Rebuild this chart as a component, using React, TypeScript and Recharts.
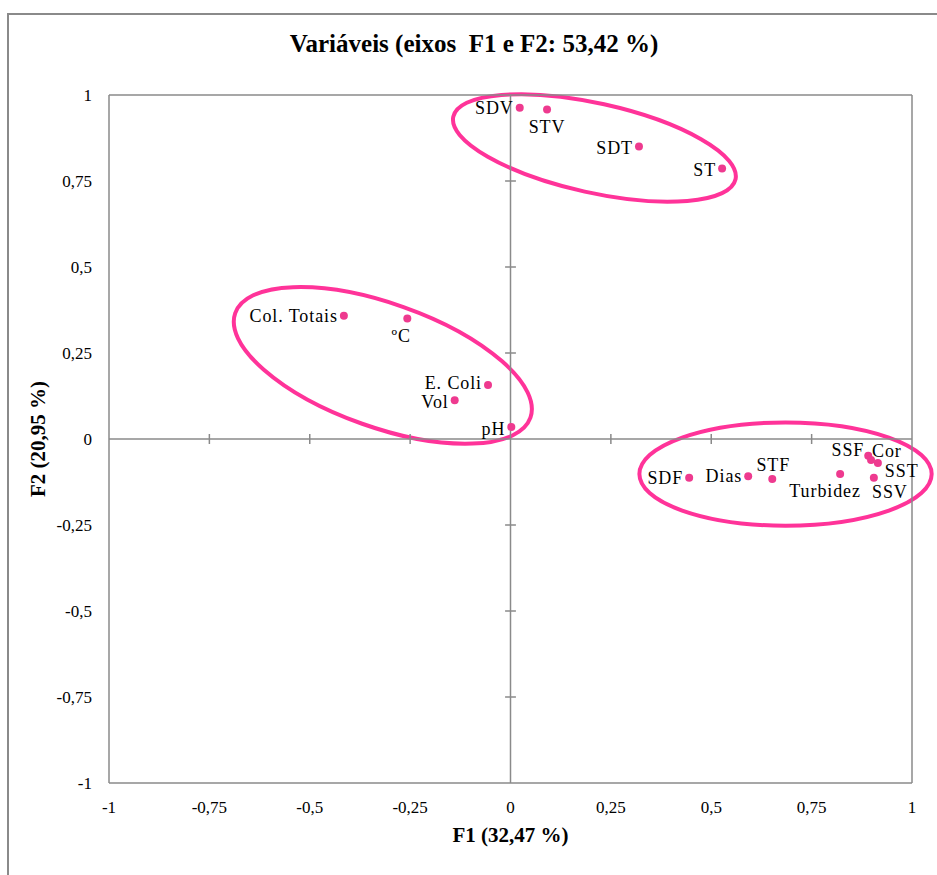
import { ScatterChart, Scatter, XAxis, YAxis, ReferenceLine, ReferenceArea } from "recharts";

// variable names and loadings
const names = [
  "SDV", "STV", "SDT", "ST",
  "Col. Totais", "ºC", "E. Coli", "Vol", "pH",
  "SDF", "Dias", "STF", "Turbidez", "SSF", "Cor", "SST", "SSV",
];
const f1 = [
  0.023, 0.091, 0.32, 0.527,
  -0.415, -0.257, -0.056, -0.139, 0.002,
  0.445, 0.592, 0.652, 0.821, 0.891, 0.898, 0.915, 0.905,
];
const f2 = [
  0.963, 0.958, 0.85, 0.786,
  0.358, 0.35, 0.157, 0.113, 0.035,
  -0.113, -0.108, -0.116, -0.102, -0.049, -0.061, -0.07, -0.113,
];
const axisTicks = [-1, -0.75, -0.5, -0.25, 0, 0.25, 0.5, 0.75, 1];
const innerTicks = [-0.75, -0.5, -0.25, 0.25, 0.5, 0.75];

// groups circled on the chart: centre, half-axes (data units), tilt in degrees
const groupCx = [0.209, -0.318, 0.685];
const groupCy = [0.846, 0.214, -0.102];
const groupRx = [0.36, 0.39, 0.364];
const groupRy = [0.13, 0.18, 0.15];
const groupTilt = [12.5, 19.5, 0];

const points = names.map((name, i) => ({ name, x: f1[i], y: f2[i] }));

// where each label sits next to its dot
const labelPos: Record<string, { dx: number; dy: number; anchor: string }> = {
  SDV: { dx: -6, dy: 0, anchor: "end" },
  STV: { dx: 0, dy: 18, anchor: "middle" },
  SDT: { dx: -6, dy: 1, anchor: "end" },
  ST: { dx: -6, dy: 1, anchor: "end" },
  "Col. Totais": { dx: -6, dy: 0, anchor: "end" },
  "ºC": { dx: -6, dy: 17, anchor: "middle" },
  "E. Coli": { dx: -6, dy: -2, anchor: "end" },
  Vol: { dx: -6, dy: 2, anchor: "end" },
  pH: { dx: -6, dy: 2, anchor: "end" },
  SDF: { dx: -6, dy: 0, anchor: "end" },
  Dias: { dx: -6, dy: 0, anchor: "end" },
  STF: { dx: 1, dy: -14, anchor: "middle" },
  Turbidez: { dx: -15, dy: 17, anchor: "middle" },
  SSF: { dx: -4, dy: -6, anchor: "end" },
  Cor: { dx: 1, dy: -9, anchor: "start" },
  SST: { dx: 7, dy: 8, anchor: "start" },
  SSV: { dx: 16, dy: 14, anchor: "middle" },
};

const PINK = "#FF3399";
const DOT = "#EE3A8F";
const GRAY = "#8a8a8a";
const FONT = "'Liberation Serif', 'Times New Roman', serif";

// the chart runs right up to the window edge, so drop the body margin
if (typeof document !== "undefined") document.body.style.margin = "0";

const fmt = (v: number) => String(v).replace(".", ",");

const PointShape = (props: any) => {
  const { cx, cy, payload } = props;
  const p = labelPos[payload.name] || { dx: 6, dy: 0, anchor: "start" };
  return (
    <g>
      <circle cx={cx} cy={cy} r={4} fill={DOT} />
      <text
        x={cx + p.dx}
        y={cy + p.dy}
        textAnchor={p.anchor as any}
        dominantBaseline="central"
        fontFamily={FONT}
        fontSize={18}
        letterSpacing={0.9}
        fill="#000"
      >
        {payload.name}
      </text>
    </g>
  );
};

const ellipseShape = (tilt: number) => (props: any) => {
  const { x, y, width, height } = props;
  const cx = x + width / 2;
  const cy = y + height / 2;
  return (
    <ellipse
      cx={cx}
      cy={cy}
      rx={Math.abs(width) / 2}
      ry={Math.abs(height) / 2}
      transform={`rotate(${tilt} ${cx} ${cy})`}
      fill="none"
      stroke={PINK}
      strokeWidth={4}
    />
  );
};

export default function App() {
  return (
    <div style={{ position: "relative", width: 937, height: 875, overflow: "hidden" }}>
      <div
        style={{
          position: "absolute",
          left: 7,
          top: 13,
          width: 940,
          height: 870,
          borderLeft: `2px solid ${GRAY}`,
          borderTop: `2px solid ${GRAY}`,
          boxSizing: "border-box",
        }}
      />
      <div
        style={{
          position: "absolute",
          left: 224,
          top: 29,
          width: 500,
          textAlign: "center",
          fontFamily: FONT,
          fontWeight: "bold",
          fontSize: 25,
          lineHeight: "30px",
        }}
      >
        Variáveis (eixos&nbsp; F1 e F2: 53,42 %)
      </div>
      <div style={{ position: "absolute", left: 8, top: 8 }}>
        <ScatterChart
          width={929}
          height={855}
          margin={{ top: 87, right: 25, bottom: 20, left: 20 }}
        >
          <XAxis
            type="number"
            dataKey="x"
            domain={[-1, 1]}
            ticks={axisTicks}
            tickFormatter={fmt}
            axisLine={false}
            tickLine={false}
            tickSize={6}
            tickMargin={12}
            height={60}
            tick={{ fill: "#000", fontFamily: FONT, fontSize: 17 }}
            label={{
              value: "F1 (32,47 %)",
              position: "insideTop",
              offset: 44,
              fill: "#000",
              fontFamily: FONT,
              fontSize: 21,
              fontWeight: "bold",
            }}
          />
          <YAxis
            type="number"
            dataKey="y"
            domain={[-1, 1]}
            ticks={axisTicks}
            tickFormatter={fmt}
            axisLine={false}
            tickLine={false}
            tickSize={6}
            tickMargin={11}
            width={81}
            tick={{ fill: "#000", fontFamily: FONT, fontSize: 17 }}
            label={{
              value: "F2 (20,95 %)",
              angle: -90,
              position: "insideLeft",
              offset: 10,
              fill: "#000",
              fontFamily: FONT,
              fontSize: 21,
              fontWeight: "bold",
              style: { textAnchor: "middle" },
            }}
          />
          {/* plot frame */}
          <ReferenceLine x={-1} stroke={GRAY} strokeWidth={1.5} />
          <ReferenceLine x={1} stroke={GRAY} strokeWidth={1.5} />
          <ReferenceLine y={-1} stroke={GRAY} strokeWidth={1.5} />
          <ReferenceLine y={1} stroke={GRAY} strokeWidth={1.5} />
          {/* axes through the origin */}
          <ReferenceLine x={0} stroke={GRAY} strokeWidth={1.5} />
          <ReferenceLine y={0} stroke={GRAY} strokeWidth={1.5} />
          {innerTicks.map((t) => (
            <ReferenceLine
              key={"xt" + t}
              segment={[
                { x: t, y: -0.0145 },
                { x: t, y: 0.0145 },
              ]}
              stroke={GRAY}
              strokeWidth={1.5}
            />
          ))}
          {innerTicks.map((t) => (
            <ReferenceLine
              key={"yt" + t}
              segment={[
                { x: -0.0135, y: t },
                { x: 0.0135, y: t },
              ]}
              stroke={GRAY}
              strokeWidth={1.5}
            />
          ))}
          {groupCx.map((cx, i) => (
            <ReferenceArea
              key={"g" + i}
              x1={cx - groupRx[i]}
              x2={cx + groupRx[i]}
              y1={groupCy[i] - groupRy[i]}
              y2={groupCy[i] + groupRy[i]}
              ifOverflow="visible"
              shape={ellipseShape(groupTilt[i])}
            />
          ))}
          <Scatter data={points} shape={PointShape} isAnimationActive={false} />
        </ScatterChart>
      </div>
    </div>
  );
}
